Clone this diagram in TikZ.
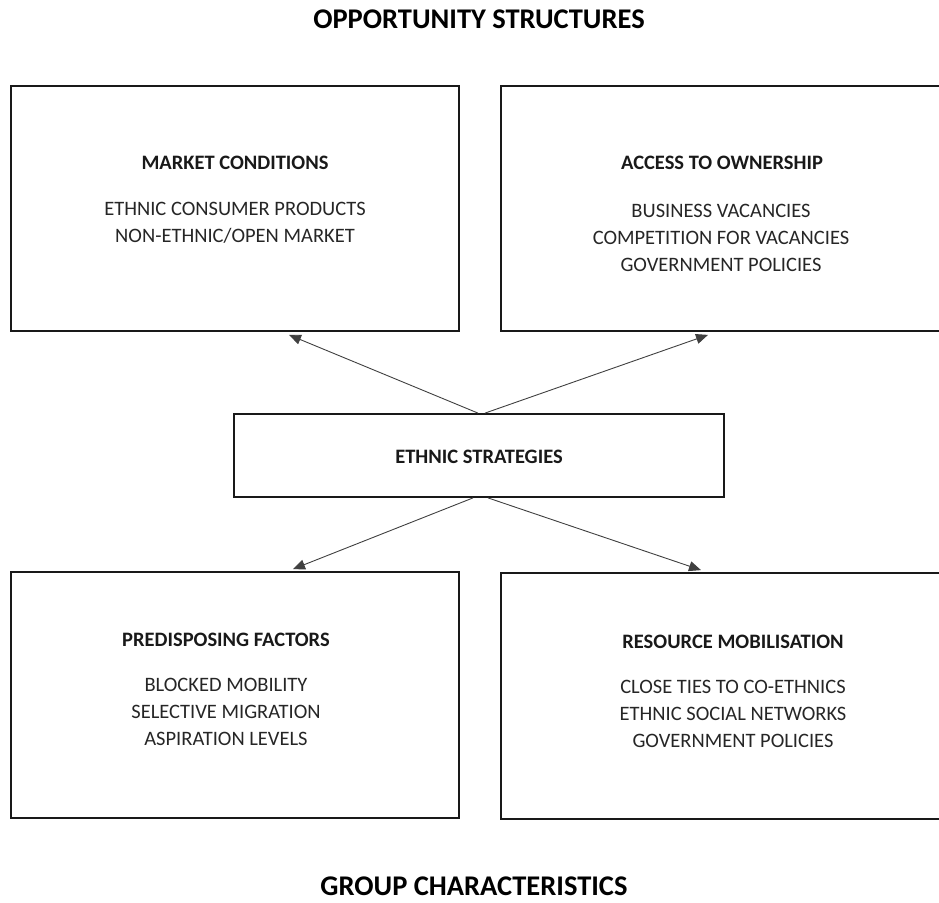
\documentclass[tikz,border=0pt]{standalone}
\usepackage{fontspec}
\setmainfont{Carlito}
\usetikzlibrary{arrows.meta}

\tikzset{
  panel/.style={draw=black!90, line width=1.8pt, fill=none, inner sep=0pt},
  link/.style={draw=black!75, line width=0.9pt,
    -{Triangle[length=12pt,width=10pt]}},
  head/.style={font=\bfseries\fontsize{20.5}{24}\selectfont, text=black!90, anchor=base, inner sep=0pt},
  item/.style={font=\fontsize{20.5}{24}\selectfont, text=black!85, anchor=base, inner sep=0pt},
  bigtitle/.style={font=\bfseries\fontsize{28.5}{32}\selectfont, text=black, anchor=base,
    inner sep=0pt, text depth=0pt}
}

\begin{document}
\begin{tikzpicture}[x=1pt, y=-1pt]
\useasboundingbox (0,0) rectangle (939,902);

% section titles
\node[bigtitle] (top) at (479,28) {OPPORTUNITY STRUCTURES};
\node[bigtitle] (bottom) at (474,895) {GROUP CHARACTERISTICS};

% the five boxes
\node[panel, minimum width=448pt, minimum height=245pt] (mc) at (235,208.5) {};
\node[panel, minimum width=444pt, minimum height=245pt] (ao) at (723,208.5) {};
\node[panel, minimum width=490pt, minimum height=83pt] (es) at (479,455.5) {};
\node[panel, minimum width=448pt, minimum height=246pt] (pf) at (235,695) {};
\node[panel, minimum width=444pt, minimum height=246pt] (rm) at (723,696) {};

% market conditions
\node[head] (mch) at (235,169) {MARKET CONDITIONS};
\node[item] (mc1) at (235,215) {ETHNIC CONSUMER PRODUCTS};
\node[item] (mc2) at (235,242) {NON-ETHNIC/OPEN MARKET};

% access to ownership
\node[head] (aoh) at (722,169) {ACCESS TO OWNERSHIP};
\node[item] (ao1) at (721,217) {BUSINESS VACANCIES};
\node[item] (ao2) at (721,244) {COMPETITION FOR VACANCIES};
\node[item] (ao3) at (721,271) {GOVERNMENT POLICIES};

% ethnic strategies
\node[head] (esh) at (479,463) {ETHNIC STRATEGIES};

% predisposing factors
\node[head] (pfh) at (226,646) {PREDISPOSING FACTORS};
\node[item] (pf1) at (226,691) {BLOCKED MOBILITY};
\node[item] (pf2) at (226,718) {SELECTIVE MIGRATION};
\node[item] (pf3) at (226,745) {ASPIRATION LEVELS};

% resource mobilisation
\node[head] (rmh) at (733,648) {RESOURCE MOBILISATION};
\node[item] (rm1) at (733,693) {CLOSE TIES TO CO-ETHNICS};
\node[item] (rm2) at (733,720) {ETHNIC SOCIAL NETWORKS};
\node[item] (rm3) at (733,747) {GOVERNMENT POLICIES};

% connectors
\draw[link] ([xshift=-1pt]es.north) -- ([xshift=54pt,yshift=-3pt]mc.south);
\draw[link] ([xshift=6pt]es.north) -- ([xshift=-15pt,yshift=-3pt]ao.south);
\draw[link] ([xshift=-6pt]es.south) -- ([xshift=58pt,yshift=2pt]pf.north);
\draw[link] ([xshift=9pt]es.south) -- ([xshift=-22pt,yshift=2pt]rm.north);
\end{tikzpicture}
\end{document}
